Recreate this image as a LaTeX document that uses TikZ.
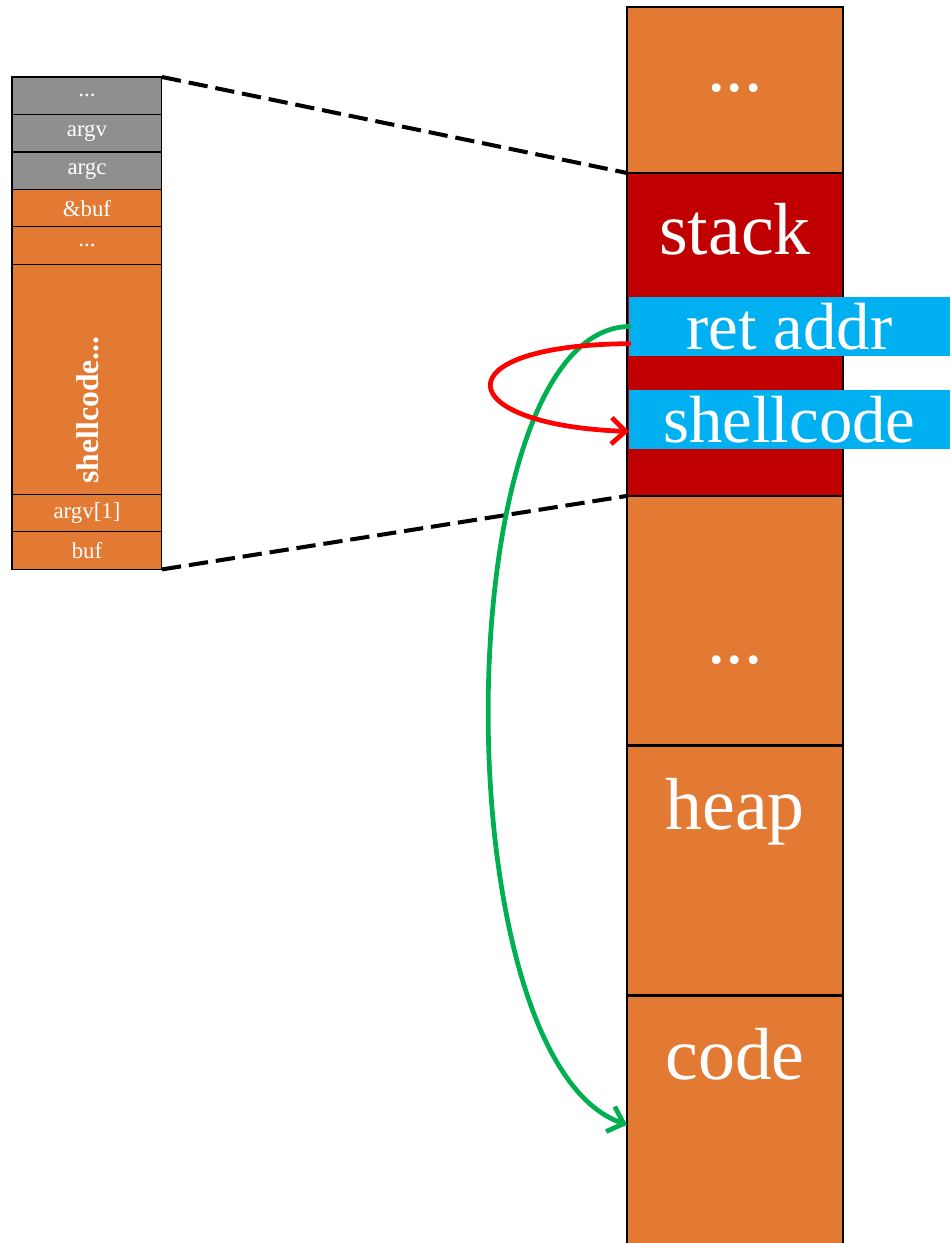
\documentclass[tikz,border=0pt]{standalone}
\usepackage{fontspec}
\setmainfont{Liberation Serif}
\usetikzlibrary{arrows.meta, positioning}
\definecolor{memorange}{HTML}{E27A33}
\definecolor{memred}{HTML}{C00000}
\definecolor{memgray}{HTML}{8E8F8E}
\definecolor{memblue}{HTML}{00B0F0}
\definecolor{memgreen}{HTML}{00B050}

\begin{document}
\begin{tikzpicture}[x=0.02cm,y=-0.02cm,node distance=0pt,>={Straight Barb[length=8pt,width=15pt]},
        frame/.style={draw=black,line width=0.6pt,fill=memorange,outer sep=0pt,inner sep=0pt,
                minimum width=3cm,minimum height=0.75cm,text=white,font=\fontsize{13}{15}\selectfont},
        saved/.style={frame,fill=memgray},
        region/.style={draw=black,line width=1.6pt,fill=memorange,outer sep=0pt,inner sep=0pt,minimum width=4.32cm},
        slot/.style={fill=memblue,outer sep=0pt,inner sep=0pt,minimum width=6.42cm,minimum height=1.18cm,
                text=white,font=\fontsize{38}{42}\selectfont},
        biglbl/.style={text=white,inner sep=0pt,font=\fontsize{42}{50}\selectfont},
        zoomline/.style={line width=2.3pt,dash pattern=on 11pt off 4.5pt},
        jump/.style={->,line width=2.7pt,line cap=round}]

        \useasboundingbox (0,0) rectangle (950,1243);

        % stack frame (left)
        \node[saved,anchor=north west] (dots1) at (12,77) {...};
        \node[saved] (argv) [below=of dots1] {argv};
        \node[saved] (argc) [below=of argv] {argc};
        \node[frame] (bufaddr) [below=of argc] {\&buf};
        \node[frame] (dots2) [below=of bufaddr] {...};
        \node[frame,minimum height=4.6cm] (payload) [below=of dots2] {};
        \node[frame] (argv1) [below=of payload] {argv[1]};
        \node[frame] (buf) [below=of argv1] {buf};
        \node[text=white,rotate=90,inner sep=0pt,font=\fontsize{18}{20}\selectfont\bfseries] (payloadlbl) at (88,410) {shellcode...};

        % memory layout (right)
        \node[region,anchor=north west,minimum height=3.32cm] (top) at (627,7) {};
        \node[region,fill=memred,minimum height=6.46cm] (stack) [below=of top] {};
        \node[region,minimum height=5cm] (free) [below=of stack] {};
        \node[region,minimum height=5cm] (heap) [below=of free] {};
        \node[region,minimum height=5.3cm] (code) [below=of heap] {};

        \path (top.north) ++(0,85) node[biglbl,anchor=base] (toplbl) {...};
        \path (stack.north) ++(0,82) node[biglbl,anchor=base] (stacklbl) {stack};
        \path (free.north) ++(0,168) node[biglbl,anchor=base] (freelbl) {...};
        \path (heap.north) ++(0,84) node[biglbl,anchor=base] (heaplbl) {heap};
        \path (code.north) ++(0,84) node[biglbl,anchor=base] (codelbl) {code};

        \node[slot,anchor=north west] (retaddr) at (629,297) {ret addr};
        \node[slot,anchor=north west] (shellcode) at (629,390) {shellcode};

        % zoom lines
        \draw[zoomline] (dots1.north east) -- (stack.north west);
        \draw[zoomline] (buf.south east) -- (stack.south west);

        % control flow
        \draw[jump,memgreen] (retaddr.west) .. controls (445,330) and (440,1060) .. ([yshift=-2.58cm]code.north west);
        \draw[jump,red] ([yshift=7pt]retaddr.south west) .. controls (440,345) and (450,425) .. ([yshift=-6.8pt]shellcode.west);
\end{tikzpicture}
\end{document}
